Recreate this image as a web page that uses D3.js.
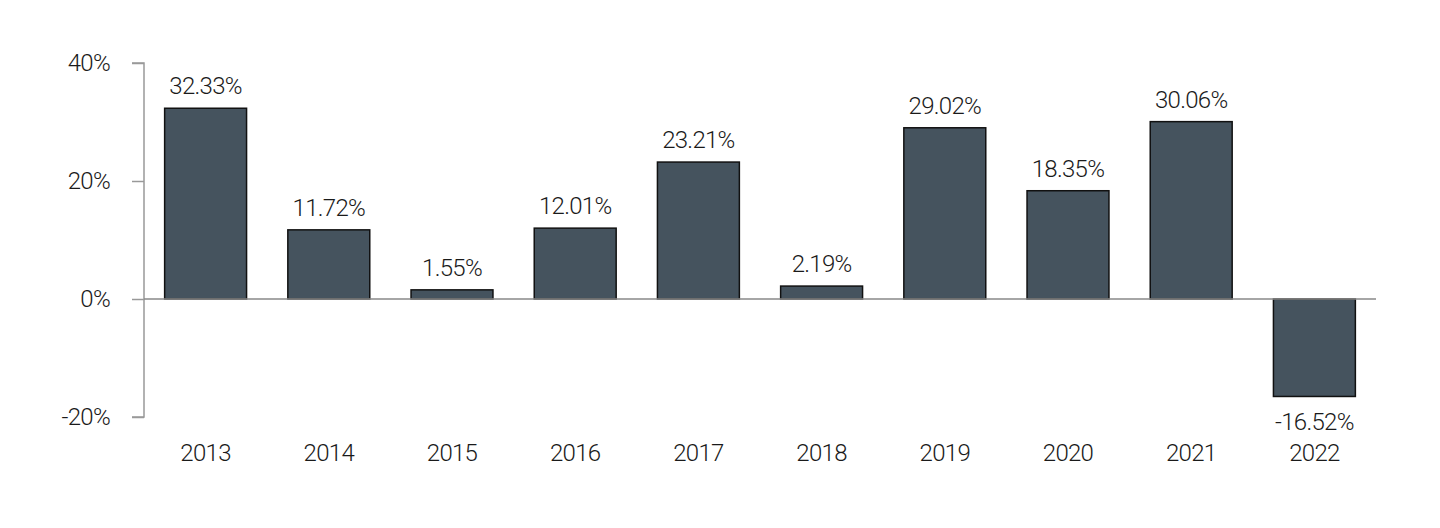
<!DOCTYPE html>
<html>
<head>
<meta charset="utf-8">
<script src="https://cdn.jsdelivr.net/npm/d3@7"></script>
<style>
  body { margin: 0; background: #fff; }
  text { font-family: "Liberation Sans Narrow", "Roboto", sans-serif; font-weight: 300; letter-spacing: -0.7px; fill: #1a1a1a; }
</style>
</head>
<body>
<div id="chart"></div>
<script>
// data
var years = ["2013", "2014", "2015", "2016", "2017", "2018", "2019", "2020", "2021", "2022"];
var returns = [32.33, 11.72, 1.55, 12.01, 23.21, 2.19, 29.02, 18.35, 30.06, -16.52];
var yTicks = [-20, 0, 20, 40];

var svgWidth = 1440;
var svgHeight = 528;

var margin = { top: 63, right: 64, bottom: 111, left: 144 };
var width = svgWidth - margin.left - margin.right;
var height = svgHeight - margin.top - margin.bottom;

var data = years.map(function(y, i) { return { year: y, value: returns[i] }; });

var svg = d3.select("#chart")
  .append("svg")
  .attr("width", svgWidth)
  .attr("height", svgHeight);

var chartGroup = svg.append("g")
  .attr("transform", `translate(${margin.left}, ${margin.top})`);

var x = d3.scaleBand()
  .domain(years)
  .range([0, width])
  .paddingInner(0.335)
  .paddingOuter(0.1675);

var y = d3.scaleLinear()
  .domain([-20, 40])
  .range([height, 0]);

// left axis
var leftAxis = d3.axisLeft(y)
  .tickValues(yTicks)
  .tickSize(12)
  .tickPadding(22)
  .tickFormat(d => d + "%");

var yAxis = chartGroup.append("g").call(leftAxis);
yAxis.select(".domain").attr("stroke", "#999").attr("stroke-width", 1.5)
  .attr("d", `M-12,${y(40)}H0V${y(-20)}H-12`);
yAxis.selectAll(".tick line").attr("stroke", "#999").attr("stroke-width", 1.5);
yAxis.selectAll(".tick text")
  .style("font-size", "24px")
  .attr("fill", "#1a1a1a");

// bars
chartGroup.selectAll("rect.bar")
  .data(data)
  .enter()
  .append("rect")
  .attr("class", "bar")
  .attr("x", d => x(d.year))
  .attr("width", x.bandwidth())
  .attr("y", d => y(Math.max(0, d.value)))
  .attr("height", d => Math.abs(y(d.value) - y(0)))
  .attr("fill", "#45535e")
  .attr("stroke", "#111")
  .attr("stroke-width", 1.5);

// zero line
chartGroup.append("line")
  .attr("x1", 0)
  .attr("x2", width)
  .attr("y1", y(0))
  .attr("y2", y(0))
  .attr("stroke", "#888")
  .attr("stroke-width", 1.5);

// value labels
chartGroup.selectAll("text.val")
  .data(data)
  .enter()
  .append("text")
  .attr("class", "val")
  .attr("x", d => x(d.year) + x.bandwidth() / 2)
  .attr("y", d => d.value >= 0 ? y(d.value) - 14 : y(d.value) + 34)
  .attr("text-anchor", "middle")
  .style("font-size", "24px")
  .text(d => d.value.toFixed(2) + "%");

// year labels
chartGroup.selectAll("text.year")
  .data(data)
  .enter()
  .append("text")
  .attr("class", "year")
  .attr("x", d => x(d.year) + x.bandwidth() / 2)
  .attr("y", height + 44)
  .attr("text-anchor", "middle")
  .style("font-size", "24px")
  .text(d => d.year);
</script>
</body>
</html>
